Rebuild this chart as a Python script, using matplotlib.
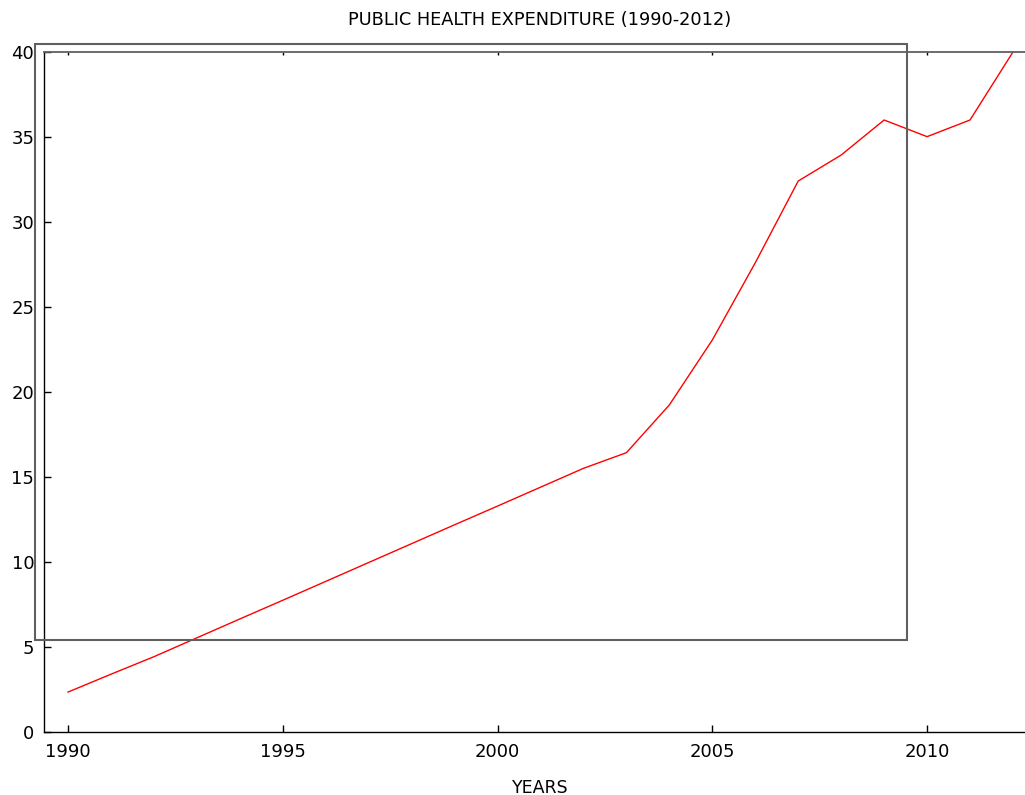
import matplotlib
matplotlib.use("Agg")
import matplotlib.pyplot as plt
from matplotlib.patches import Rectangle

years = list(range(1990, 2013))
expenditure = [2.35, 3.4, 4.43, 5.54, 6.65, 7.75, 8.86, 9.97, 11.08, 12.19, 13.29, 14.4,
               15.51, 16.43, 19.24, 23.06, 27.6, 32.41, 33.94, 36.0, 35.02, 36.0, 40.0]
xticks = [1990, 1995, 2000, 2005, 2010]
yticks = [0, 5, 10, 15, 20, 25, 30, 35, 40]

plt.rcParams['font.family'] = ['DejaVu Sans']

fig = plt.figure(figsize=(10.25, 7.95), dpi=100)
ax = fig.add_axes([44 / 1025, 63 / 795, 981 / 1025, 680 / 795])

ax.plot(years, expenditure, color='red', lw=1.0)

ax.set_xlim(1989.44, 2012.28)
ax.set_ylim(0, 40)
ax.set_xticks(xticks)
ax.set_yticks(yticks)
ax.tick_params(axis='both', direction='in', labelsize=13, width=1, length=5)
ax.tick_params(axis='x', top=True, pad=8)
ax.tick_params(axis='y', pad=7)
# short grey ticks along the top
for t in ax.xaxis.get_major_ticks():
    t.tick2line.set_markersize(2.5)
    t.tick2line.set_color('#404040')
ax.spines['right'].set_visible(False)
for s in ['left', 'bottom']:
    ax.spines[s].set_linewidth(1.0)
ax.spines['top'].set_color('#606060')
ax.spines['top'].set_linewidth(1.3)

fig.text(540 / 1025, 1 - 20 / 795, 'PUBLIC HEALTH EXPENDITURE (1990-2012)',
         ha='center', va='center', fontsize=12.8)
fig.text(540 / 1025, 1 - 788 / 795, 'YEARS', ha='center', va='center', fontsize=12.5)

# stray key box
fig.patches.append(Rectangle((35 / 1025, 155 / 795), 872 / 1025, 596 / 795,
                             transform=fig.transFigure, fill=False,
                             edgecolor='#606060', lw=1.5))

fig.savefig('out.png', dpi=100)
